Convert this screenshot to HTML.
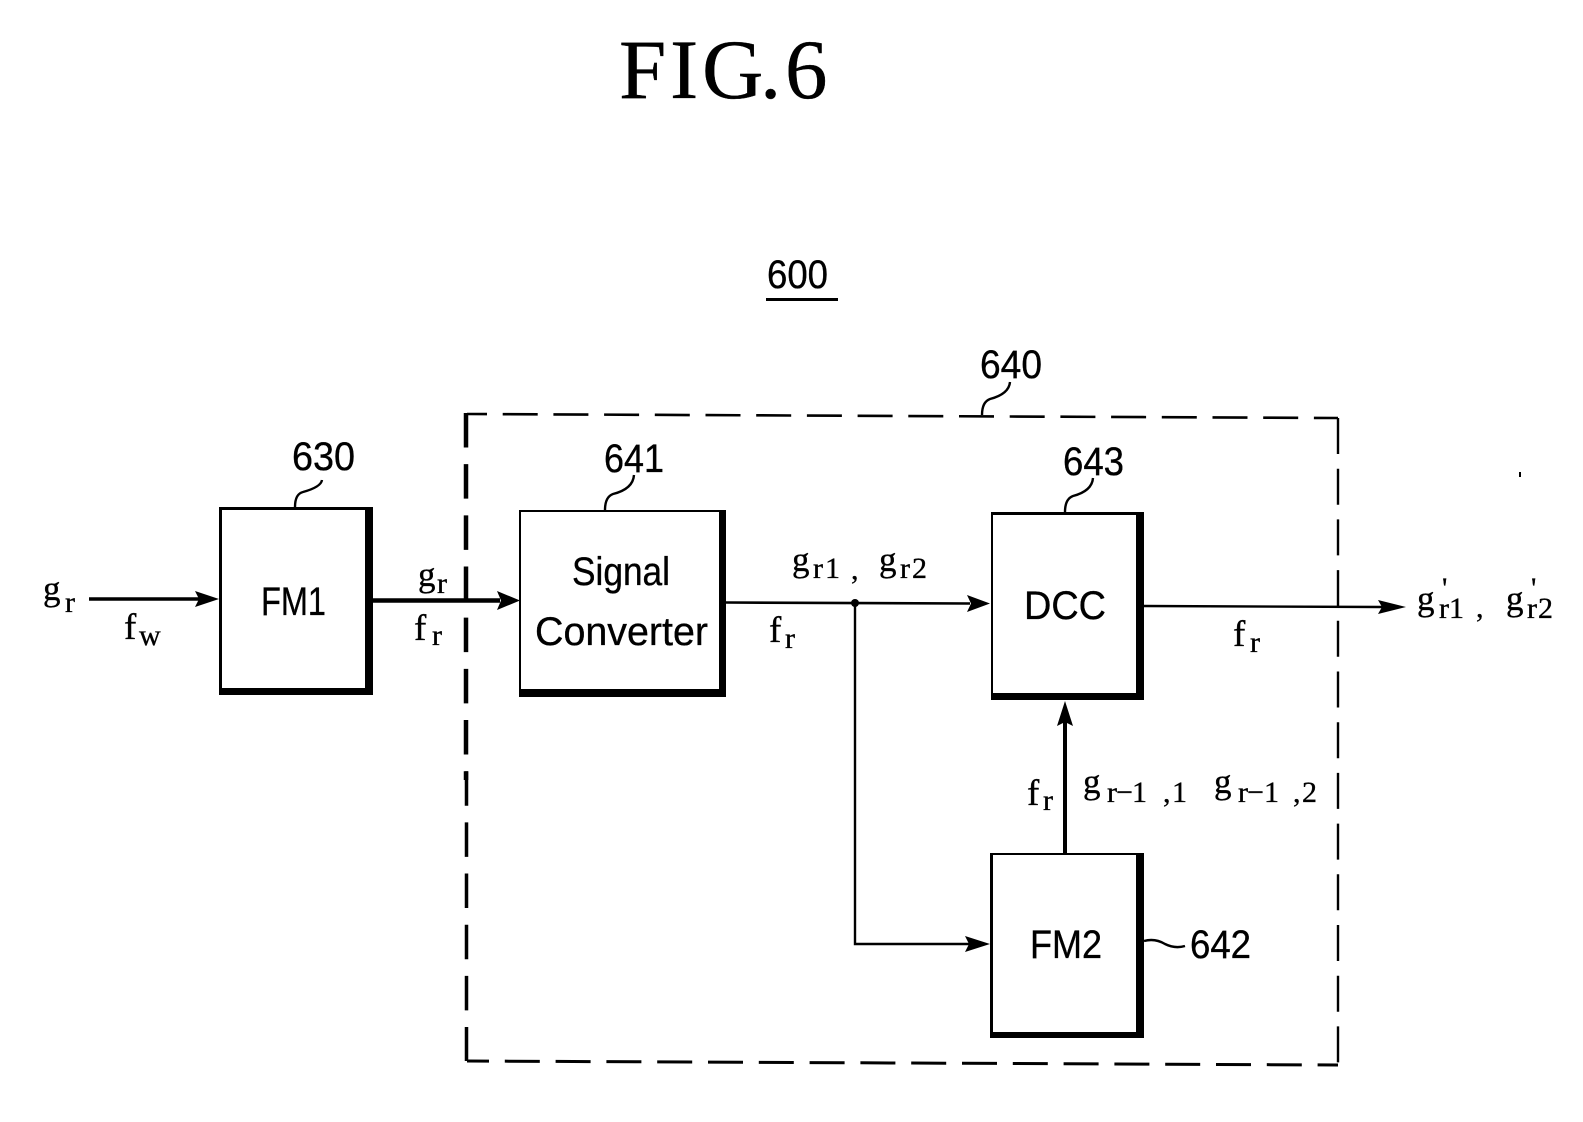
<!DOCTYPE html>
<html>
<head>
<meta charset="utf-8">
<style>
html,body{margin:0;padding:0;background:#fff}
svg{display:block}
text{font-family:"Liberation Sans",sans-serif;fill:#000;stroke:#000;stroke-width:.35}
.s{font-family:"Liberation Serif",serif}
.g{font-family:"Liberation Serif",serif;font-size:35px}
.f{font-family:"Liberation Serif",serif;font-size:37px}
.u{font-family:"Liberation Serif",serif;font-size:30px}
.n{font-size:40px}
.l{font-size:40px}
</style>
</head>
<body>
<svg width="1583" height="1122" viewBox="0 0 1583 1122" xmlns="http://www.w3.org/2000/svg">
<text class="s" font-size="85" x="619 670 702 760 785" y="98">FIG.6</text>

<text class="n" x="767" y="288" textLength="61" lengthAdjust="spacingAndGlyphs">600</text>
<rect x="766" y="298" width="72" height="3"/>

<!-- dashed frame -->
<g fill="none" stroke="#000">
<line x1="467" y1="414" x2="1338" y2="418" stroke-width="2.6" stroke-dasharray="35 15.7" stroke-dashoffset="15"/>
<line x1="1338" y1="418" x2="1338" y2="1065" stroke-width="2.4" stroke-dasharray="36 14.7"/>
<line x1="467" y1="1061" x2="1338" y2="1065" stroke-width="3" stroke-dasharray="35 15.8" stroke-dashoffset="13"/>
<line x1="466" y1="413" x2="466" y2="780" stroke-width="4.5" stroke-dasharray="34.5 16.67"/>
<line x1="466.5" y1="771.2" x2="466.5" y2="1061" stroke-width="3.5" stroke-dasharray="34.5 16.67"/>
</g>

<!-- boxes -->
<rect x="219" y="507" width="154" height="188"/><rect x="222" y="510" width="143" height="178" fill="#fff"/>
<rect x="519" y="510" width="207" height="187"/><rect x="521" y="512" width="198" height="177" fill="#fff"/>
<rect x="991" y="512" width="153" height="188"/><rect x="993" y="515" width="143" height="178" fill="#fff"/>
<rect x="990" y="853" width="154" height="185"/><rect x="993" y="855" width="143" height="177" fill="#fff"/>

<!-- box labels -->
<text class="l" x="261" y="615" textLength="65" lengthAdjust="spacingAndGlyphs">FM1</text>
<text class="l" x="572" y="585" textLength="98" lengthAdjust="spacingAndGlyphs">Signal</text>
<text class="l" x="535" y="645" textLength="173" lengthAdjust="spacingAndGlyphs">Converter</text>
<text class="l" x="1024" y="619" textLength="82" lengthAdjust="spacingAndGlyphs">DCC</text>
<text class="l" x="1030" y="958" textLength="72" lengthAdjust="spacingAndGlyphs">FM2</text>

<!-- reference numbers and leaders -->
<text class="n" x="980" y="378" textLength="62" lengthAdjust="spacingAndGlyphs">640</text>
<text class="n" x="292" y="470" textLength="63" lengthAdjust="spacingAndGlyphs">630</text>
<text class="n" x="604" y="472" textLength="60" lengthAdjust="spacingAndGlyphs">641</text>
<text class="n" x="1063" y="475" textLength="61" lengthAdjust="spacingAndGlyphs">643</text>
<text class="n" x="1190" y="958" textLength="61" lengthAdjust="spacingAndGlyphs">642</text>
<g fill="none" stroke="#000" stroke-width="2.4">
<path d="M982 415 Q982 402 990 399 Q1009 394 1010 382"/>
<path d="M295 507 Q295 494 303 492 Q321 487 322 480"/>
<path d="M605 510 Q605 497 613 494 Q633 489 634 475"/>
<path d="M1065 512 Q1065 499 1073 496 Q1092 491 1093 478"/>
<path d="M1144 941 Q1155 938 1165 944 Q1175 949 1185 946"/>
</g>

<!-- connectors -->
<g fill="none" stroke="#000">
<line x1="89" y1="599" x2="200" y2="599" stroke-width="3.5"/>
<line x1="373" y1="600.5" x2="500" y2="600.5" stroke-width="4.5"/>
<line x1="726" y1="602.5" x2="970" y2="603.5" stroke-width="2.6"/>
<line x1="1144" y1="606" x2="1382" y2="607" stroke-width="2.4"/>
<path d="M855 603 V944 H970" stroke-width="2.4"/>
<line x1="1065" y1="853" x2="1065" y2="720" stroke-width="4"/>
</g>
<circle cx="855" cy="603" r="4"/>
<path d="M195 591 L219 599 L195 607 L199 599 Z"/>
<path d="M497 591 L520 600.5 L497 610 L501 600.5 Z"/>
<path d="M967 595 L990 603.5 L967 612 L971 603.5 Z"/>
<path d="M965 936 L990 944 L965 952 L969 944 Z"/>
<path d="M1378 600 L1406 607 L1378 614 L1382 607 Z"/>
<path d="M1065 701 L1073 726 L1065 722 L1057 726 Z"/>

<!-- signal labels -->
<text class="g" x="43" y="600">g</text><text class="u" x="65" y="612">r</text>
<text class="f" x="124" y="639">f</text><text class="u" x="139" y="645">w</text>
<text class="g" x="418" y="586">g</text><text class="u" x="437" y="593">r</text>
<text class="f" x="414" y="640">f</text><text class="u" x="432" y="645">r</text>

<text class="g" x="792" y="571">g</text><text class="u" x="813 825" y="578">r1</text>
<text class="u" x="851" y="579">,</text>
<text class="g" x="879" y="571">g</text><text class="u" x="900 912" y="578">r2</text>
<text class="f" x="769" y="642">f</text><text class="u" x="785" y="648">r</text>

<text class="f" x="1233" y="646">f</text><text class="u" x="1250" y="652">r</text>

<text class="f" x="1027" y="805">f</text><text class="u" x="1043" y="810">r</text>
<text class="g" x="1083" y="793">g</text><text class="u" x="1107 1116 1132" y="802">r−1</text>
<text class="u" x="1163 1172" y="802">,1</text>
<text class="g" x="1214" y="793">g</text><text class="u" x="1238 1247 1264" y="802">r−1</text>
<text class="u" x="1293 1302" y="802">,2</text>

<text class="g" x="1417" y="610">g</text><text class="u" x="1439 1449" y="618">r1</text>
<text class="u" x="1442" y="598">'</text>
<text class="u" x="1476" y="617">,</text>
<text class="g" x="1506" y="610">g</text><text class="u" x="1527 1538" y="618">r2</text>
<text class="u" x="1531" y="598">'</text>

<rect x="1519" y="472" width="2" height="5"/>
</svg>
</body>
</html>
